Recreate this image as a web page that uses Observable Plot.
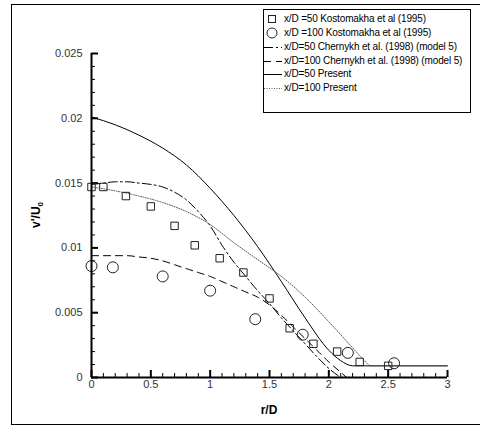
<!DOCTYPE html>
<html><head><meta charset="utf-8">
<script src="https://cdn.jsdelivr.net/npm/d3@7"></script>
<script src="https://cdn.jsdelivr.net/npm/@observablehq/plot@0.6"></script>
<style>
body{margin:0;background:#fff;font-family:"Liberation Sans",Arial,sans-serif;}
#wrap{position:relative;width:480px;height:431px;overflow:hidden;}
#frame{position:absolute;left:11px;top:4px;width:480px;height:421px;border:1px solid #000;box-sizing:border-box;}
#chart{position:absolute;left:0;top:0;}
#legend{position:absolute;left:263px;top:9px;width:208px;height:104px;border:1px solid #000;box-sizing:border-box;background:#fff;}
.row{position:absolute;left:0;height:14px;font-size:10px;letter-spacing:-0.15px;line-height:14px;white-space:nowrap;color:#000;}
.row svg{position:absolute;left:0;top:0;}
.row span{position:absolute;left:20px;top:0;}
</style></head>
<body><div id="wrap"><div id="frame"></div><div id="chart"></div><div id="legend"></div></div>
<script>
// Kostomakha et al (1995) measurements
const kost50R = [0, 0.1, 0.29, 0.5, 0.7, 0.87, 1.08, 1.28, 1.5, 1.67, 1.87, 2.07, 2.26, 2.5];
const kost50V = [0.0147, 0.0147, 0.0140, 0.0132, 0.0117, 0.0102, 0.0092, 0.0081, 0.0061, 0.0038, 0.0026, 0.0020, 0.0012, 0.0009];
const kost100R = [0, 0.18, 0.6, 1.0, 1.38, 1.78, 2.16, 2.55];
const kost100V = [0.0086, 0.0085, 0.0078, 0.0067, 0.0045, 0.0033, 0.0019, 0.0011];
// Chernykh et al. (1998) model 5
const cher50R = [0, 0.1, 0.2, 0.3, 0.4, 0.5, 0.6, 0.7, 0.8, 0.9, 1.0, 1.1, 1.2, 1.3, 1.4, 1.5, 1.6, 1.7, 1.8, 1.9, 2.0, 2.1];
const cher50V = [0.0149, 0.0150, 0.0151, 0.0151, 0.0150, 0.0149, 0.0147, 0.0143, 0.0137, 0.0128, 0.0117, 0.0102, 0.0089, 0.0078, 0.0067, 0.0057, 0.0046, 0.0036, 0.0026, 0.0016, 0.0007, 0.0];
const cher100R = [0, 0.1, 0.2, 0.3, 0.4, 0.5, 0.6, 0.7, 0.8, 0.9, 1.0, 1.1, 1.2, 1.3, 1.4, 1.5, 1.6, 1.7, 1.8, 1.9, 2.0, 2.1, 2.15];
const cher100V = [0.0094, 0.0094, 0.0094, 0.0094, 0.0093, 0.0092, 0.0090, 0.0087, 0.0084, 0.0081, 0.0078, 0.0074, 0.0070, 0.0066, 0.0062, 0.0056, 0.0048, 0.0039, 0.0030, 0.0021, 0.0012, 0.0004, 0.0];
// Present
const pres50R = [0, 0.2, 0.4, 0.6, 0.8, 1.0, 1.2, 1.4, 1.6, 1.8, 2.0, 2.1, 2.2, 2.5, 3.0];
const pres50V = [0.0201, 0.0195, 0.0187, 0.0177, 0.0164, 0.0146, 0.0125, 0.0101, 0.0074, 0.0046, 0.0021, 0.0013, 0.0009, 0.0009, 0.0009];
const pres100R = [0, 0.2, 0.4, 0.6, 0.8, 1.0, 1.2, 1.4, 1.6, 1.8, 2.0, 2.2, 2.3, 2.35, 2.5, 3.0];
const pres100V = [0.0147, 0.0144, 0.0140, 0.0135, 0.0128, 0.0118, 0.0104, 0.0091, 0.0078, 0.0062, 0.0043, 0.0023, 0.0013, 0.0009, 0.0009, 0.0009];

const xTicks = [0, 0.5, 1, 1.5, 2, 2.5, 3];
const yTicks = [0, 0.005, 0.01, 0.015, 0.02, 0.025];
const legendLabels = [
  "x/D =50 Kostomakha et al (1995)",
  "x/D =100 Kostomakha et al (1995)",
  "x/D=50 Chernykh et al. (1998) (model 5)",
  "x/D=100 Chernykh et al. (1998) (model 5)",
  "x/D=50 Present",
  "x/D=100 Present"
];

const zip = (R, V) => R.map((r, i) => ({r, v: V[i]}));
const xMinor = d3.range(0, 3.0001, 0.1).map(d => +d.toFixed(2)).filter(d => !xTicks.some(t => Math.abs(t - d) < 1e-6));
const yMinor = d3.range(0, 0.02501, 0.001).map(d => +d.toFixed(4)).filter(d => !yTicks.some(t => Math.abs(t - d) < 1e-7));

const styles = {
  c50: {stroke: "#000", strokeWidth: 1, strokeDasharray: "9,3,2,3"},
  c100: {stroke: "#000", strokeWidth: 1, strokeDasharray: "7,5"},
  p50: {stroke: "#000", strokeWidth: 1},
  p100: {stroke: "#555", strokeWidth: 1, strokeDasharray: "1,1.5"}
};

const plot = Plot.plot({
  width: 480, height: 431,
  marginLeft: 91, marginRight: 33, marginTop: 53, marginBottom: 54,
  style: {background: "transparent", fontFamily: "'Liberation Sans', Arial, sans-serif", fontSize: "11px", color: "#000"},
  x: {domain: [0, 3]},
  y: {domain: [0, 0.025]},
  marks: [
    Plot.axisY(yMinor, {tickSize: -4, tickFormat: () => "", label: null}),
    Plot.axisY(yTicks, {tickSize: -7, tickPadding: 16, tickFormat: d => String(d), label: null, fill: "#333", strokeWidth: 2}),
    Plot.axisX(xMinor, {tickSize: -4, tickFormat: () => "", label: null}),
    Plot.axisX(xTicks, {tickSize: -7, tickPadding: 10, tickFormat: d => String(d), label: null, fill: "#333", strokeWidth: 2}),
    Plot.line(zip(cher50R, cher50V), {x: "r", y: "v", curve: "monotone-x", ...styles.c50}),
    Plot.line(zip(cher100R, cher100V), {x: "r", y: "v", curve: "monotone-x", ...styles.c100}),
    Plot.line(zip(pres50R, pres50V), {x: "r", y: "v", curve: "monotone-x", ...styles.p50}),
    Plot.line(zip(pres100R, pres100V), {x: "r", y: "v", curve: "monotone-x", ...styles.p100}),
    Plot.dot(zip(kost50R, kost50V), {x: "r", y: "v", symbol: "square", r: 4.2, stroke: "#222", fill: "none", strokeWidth: 1}),
    Plot.dot(zip(kost100R, kost100V), {x: "r", y: "v", symbol: "circle", r: 5.5, stroke: "#222", fill: "none", strokeWidth: 1}),
    Plot.ruleY([0], {stroke: "#000", strokeWidth: 2}),
    Plot.ruleX([0], {stroke: "#000", strokeWidth: 2})
  ]
});
document.getElementById("chart").appendChild(plot);

const svg = d3.select(plot);
const yl = svg.append("text")
  .attr("transform", "translate(40,215) rotate(-90)")
  .attr("text-anchor", "middle")
  .attr("font-weight", "bold").attr("font-size", "12px").attr("fill", "#000");
yl.append("tspan").text("v'/U");
yl.append("tspan").attr("font-size", "8px").attr("dy", "3").text("0");
svg.append("text")
  .attr("x", 269).attr("y", 414)
  .attr("text-anchor", "middle")
  .attr("font-weight", "bold").attr("font-size", "12px").attr("fill", "#000")
  .text("r/D");

// legend
const leg = d3.select("#legend");
const rowTops = [2, 16, 30, 44, 57, 71];
const kinds = ["square", "circle", "c50", "c100", "p50", "p100"];
legendLabels.forEach((lab, i) => {
  const row = leg.append("div").attr("class", "row").style("top", rowTops[i] + "px").style("width", "206px");
  const s = row.append("svg").attr("width", 20).attr("height", 14);
  const k = kinds[i];
  if (k === "square") s.append("rect").attr("x", 4.5).attr("y", 3.5).attr("width", 7).attr("height", 7).attr("fill", "none").attr("stroke", "#222");
  else if (k === "circle") s.append("circle").attr("cx", 8).attr("cy", 7).attr("r", 5).attr("fill", "none").attr("stroke", "#222");
  else {
    const st = styles[k];
    s.append("line").attr("x1", 0).attr("x2", 18).attr("y1", 7.5).attr("y2", 7.5)
      .attr("stroke", st.stroke).attr("stroke-width", st.strokeWidth)
      .attr("stroke-dasharray", st.strokeDasharray || null);
  }
  row.append("span").text(lab);
});
</script>
</body></html>
